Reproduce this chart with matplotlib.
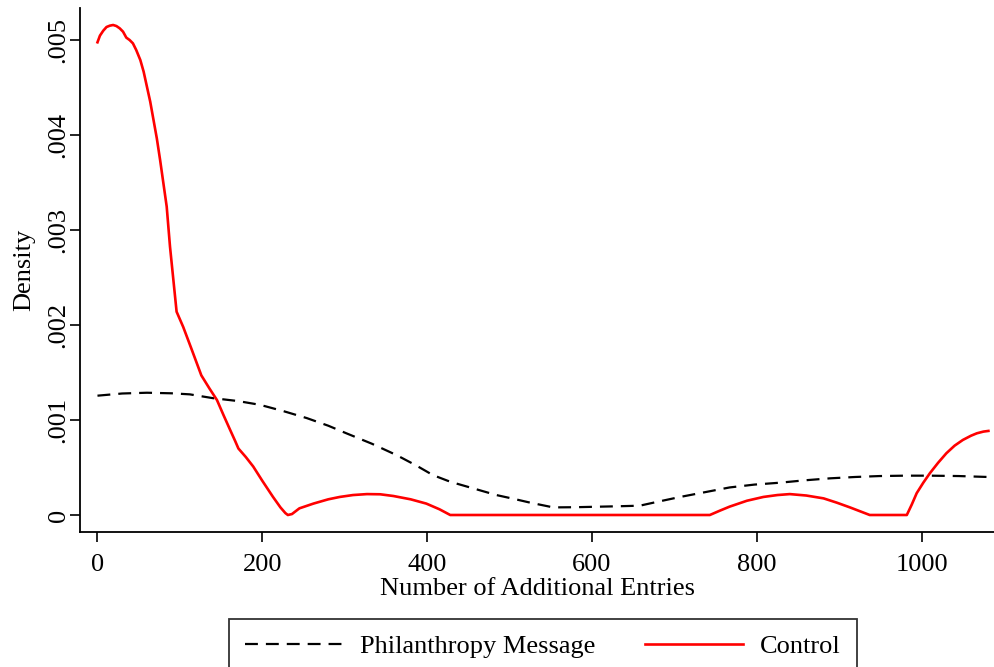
import matplotlib
matplotlib.use('Agg')
import matplotlib.pyplot as plt

# values (kernel density estimates)
control_x = [0, 3, 7, 11, 15, 19, 23, 27, 31, 35, 39, 43, 47, 52, 56, 60, 64, 68, 72,
             76, 80, 84, 86, 88, 96, 104, 114, 126, 136, 145, 153, 161, 167, 171, 180,
             189, 200, 213, 222, 228, 231, 236, 245, 262, 280, 294, 310, 327, 343, 359,
             380, 399, 415, 428,
             743, 755, 767, 788, 808, 825, 840, 860, 881, 897, 913, 925, 937,
             982, 988, 994, 1002, 1010, 1020, 1030, 1040, 1050, 1060, 1067, 1075, 1081]
control_y = [0.004976, 0.005046, 0.005098, 0.005137, 0.005151, 0.005158, 0.005147,
             0.005123, 0.005088, 0.005025, 0.005000, 0.004965, 0.004895, 0.004789,
             0.004667, 0.004509, 0.004351, 0.004158, 0.003965, 0.003737, 0.003491,
             0.003246, 0.003035, 0.002825, 0.00214, 0.00198, 0.00175, 0.00147, 0.00133,
             0.00121, 0.00105, 0.000895, 0.00078, 0.00070, 0.00061, 0.00051, 0.00036,
             0.00019, 0.00008, 0.00002, 0.0, 0.00001, 0.00007, 0.00012, 0.000165,
             0.00019, 0.00021, 0.00022, 0.000218, 0.00020, 0.000165, 0.00012, 0.00006,
             0.0,
             0.0, 0.000045, 0.000088, 0.00015, 0.00019, 0.00021, 0.00022, 0.000205,
             0.000175, 0.00013, 0.00008, 0.00004, 0.0,
             0.0, 0.00011, 0.00023, 0.00034, 0.00044, 0.00055, 0.00065, 0.00073,
             0.00079, 0.000835, 0.00086, 0.000878, 0.000885]

phil_x = [0, 30, 60, 90, 112, 140, 170, 197, 225, 254, 280, 302, 333, 363, 387, 407,
          425, 436, 460, 484, 505, 525, 553, 580, 606, 632, 658, 680, 707, 737, 767,
          797, 828, 858, 889, 919, 949, 980, 1010, 1045, 1081]
phil_y = [0.001256, 0.001279, 0.001287, 0.001281, 0.00127, 0.00123, 0.00120, 0.00116,
          0.001095, 0.00102, 0.00094, 0.00086, 0.00075, 0.00063, 0.00052, 0.00042,
          0.00036, 0.00033, 0.00027, 0.00021, 0.00017, 0.00013, 0.00008, 0.000082,
          0.000087, 0.000092, 0.000098, 0.00014, 0.00019, 0.00024, 0.00029, 0.00032,
          0.00034, 0.000365, 0.000386, 0.00040, 0.00041, 0.000414, 0.000414, 0.00041,
          0.00040]

xticks = [0, 200, 400, 600, 800, 1000]
yticks = [0, 0.001, 0.002, 0.003, 0.004, 0.005]
ytick_labels = ['0', '.001', '.002', '.003', '.004', '.005']

plt.rcParams['font.family'] = ['Liberation Serif', 'DejaVu Serif']
fs = 19

fig = plt.figure(figsize=(9.95, 6.67), dpi=100)
ax = fig.add_axes([80 / 995, 1 - 532 / 667, 915 / 995, 524 / 667])

ax.plot(phil_x, phil_y, color='black', lw=1.6, dashes=(5.8, 3.6), label='Philanthropy Message')
ax.plot(control_x, control_y, color='red', lw=1.9, label='Control')

ax.set_xlim(-21.2, 1089)
ax.set_ylim(-0.000179, 0.005337)
ax.set_xticks(xticks)
ax.set_yticks(yticks)
ax.set_yticklabels(ytick_labels, rotation=90, va='center')
ax.tick_params(axis='both', labelsize=fs, length=7.5, width=1.2, color='black')
ax.tick_params(axis='x', pad=8)
ax.tick_params(axis='y', pad=0)
for s in ['top', 'right']:
    ax.spines[s].set_visible(False)
for s in ['left', 'bottom']:
    ax.spines[s].set_linewidth(1.3)

ax.set_xlabel('Number of Additional Entries', fontsize=fs, labelpad=1.5)
ax.set_ylabel('Density', fontsize=fs, labelpad=9)

# legend box runs off the bottom edge, as in the original
leg = fig.legend(loc='upper center', bbox_to_anchor=(543 / 995, 1 - 619 / 667), ncol=2,
                 fontsize=fs, frameon=True, fancybox=False, edgecolor='black',
                 handlelength=3.7, handletextpad=0.65, columnspacing=1.9,
                 borderpad=0.6, borderaxespad=0)
leg.get_frame().set_linewidth(1.3)

fig.savefig('out.png', dpi=100)
